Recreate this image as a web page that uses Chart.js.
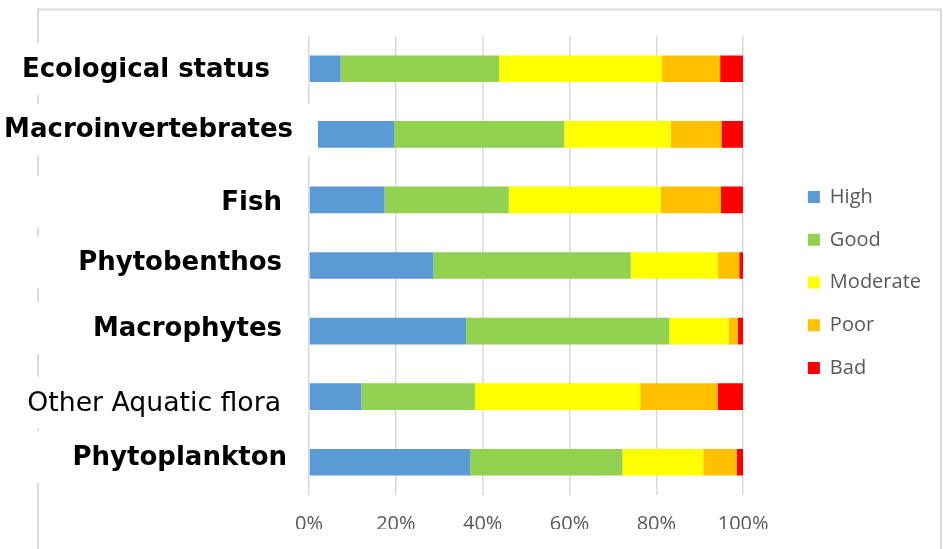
<!DOCTYPE html>
<html>
<head>
<meta charset="utf-8">
<title>Ecological status</title>
<script src="https://cdn.jsdelivr.net/npm/chart.js@4.4.1/dist/chart.umd.min.js"></script>
<style>
  html, body { margin: 0; padding: 0; background: #fff; }
  #wrap { width: 943px; height: 549px; }
</style>
</head>
<body>
<div id="wrap"><canvas id="statusChart" width="943" height="549"></canvas></div>
<script>
// quality elements, top to bottom
var elements = ['Ecological status', 'Macroinvertebrates', 'Fish', 'Phytobenthos', 'Macrophytes', 'Other Aquatic flora', 'Phytoplankton'];

// share of water bodies per class (%)
var high     = [7.3, 19.6, 17.4, 28.7, 36.2, 12.1, 37.1];
var good     = [36.5, 39.2, 28.6, 45.4, 46.8, 26.1, 35.1];
var moderate = [37.5, 24.5, 35.0, 20.1, 13.6, 38.1, 18.6];
var poor     = [13.4, 11.7, 13.9, 4.9, 2.2, 17.9, 7.7];
var bad      = [5.3, 5.0, 5.1, 0.9, 1.2, 5.8, 1.5];

var xTicks = [0, 20, 40, 60, 80, 100];

var tickFont = { family: '"Open Sans", sans-serif', size: 20 };

// row labels sit on white boxes drawn over the plot
var rowLabels = {
  id: 'rowLabels',
  beforeDraw: function (chart) {
    var ctx = chart.ctx;
    ctx.save();
    ctx.strokeStyle = '#d9d9d9';
    ctx.lineWidth = 2;
    ctx.strokeRect(38, 9.5, 903, 600);
    ctx.restore();
  },
  afterDatasetsDraw: function (chart, args, opts) {
    var ctx = chart.ctx;
    var yScale = chart.scales.y;
    ctx.save();
    ctx.textBaseline = 'middle';
    ctx.textAlign = 'right';
    elements.forEach(function (name, i) {
      var y = yScale.getPixelForValue(i) + opts.dy[i];
      var right = opts.right[i];
      var plain = opts.plain.indexOf(i) >= 0;
      ctx.fillStyle = '#fff';
      ctx.fillRect(0, y - 27, right + opts.pad[i], 52);
      ctx.fillStyle = '#000';
      ctx.font = plain ? opts.plainSize + 'px "DejaVu Sans", sans-serif'
                       : 'bold ' + opts.size + 'px "DejaVu Sans", sans-serif';
      ctx.fillText(name, right, y);
    });
    ctx.restore();
  }
};

var chart = new Chart(document.getElementById('statusChart'), {
  type: 'bar',
  data: {
    labels: elements,
    datasets: [
      { label: 'High', data: high, backgroundColor: '#5b9bd5' },
      { label: 'Good', data: good, backgroundColor: '#92d050' },
      { label: 'Moderate', data: moderate, backgroundColor: '#ffff00' },
      { label: 'Poor', data: poor, backgroundColor: '#ffc000' },
      { label: 'Bad', data: bad, backgroundColor: '#ff0000' }
    ]
  },
  options: {
    indexAxis: 'y',
    responsive: false,
    animation: false,
    devicePixelRatio: 1,
    categoryPercentage: 1,
    barPercentage: 0.406,
    layout: { padding: { left: 309, right: 12, top: 36, bottom: 20 } },
    scales: {
      x: {
        stacked: true,
        min: 0,
        max: 100,
        afterBuildTicks: function (scale) {
          scale.ticks = xTicks.map(function (v) { return { value: v }; });
        },
        afterFit: function (scale) { scale.height = 34; },
        grid: { color: '#d9d9d9', lineWidth: 1.5, drawTicks: false },
        border: { display: false },
        ticks: {
          padding: 17,
          color: '#595959',
          font: tickFont,
          callback: function (v) { return v + '%'; }
        }
      },
      y: {
        stacked: true,
        display: false
      },
      // empty gap between the plot and the legend
      gap: {
        type: 'linear',
        axis: 'y',
        position: 'right',
        display: true,
        grid: { display: false },
        border: { display: false },
        ticks: { display: false },
        afterFit: function (scale) { scale.width = 42; }
      }
    },
    plugins: {
      legend: {
        position: 'right',
        labels: {
          boxWidth: 12,
          boxHeight: 12,
          padding: 22.7,
          color: '#595959',
          font: { family: '"Open Sans", sans-serif', size: 20 }
        }
      },
      tooltip: { enabled: false },
      rowLabels: {
        size: 26,
        plainSize: 26.7,
        plain: [5],
        right: [270, 293, 282, 282, 282, 281, 287],
        pad: [25, 25, 25, 25, 25, 25, 21],
        dy: [1.5, -3.7, 3, -2, -1.8, 7, -4.3]
      }
    }
  },
  plugins: [rowLabels]
});
</script>
</body>
</html>
